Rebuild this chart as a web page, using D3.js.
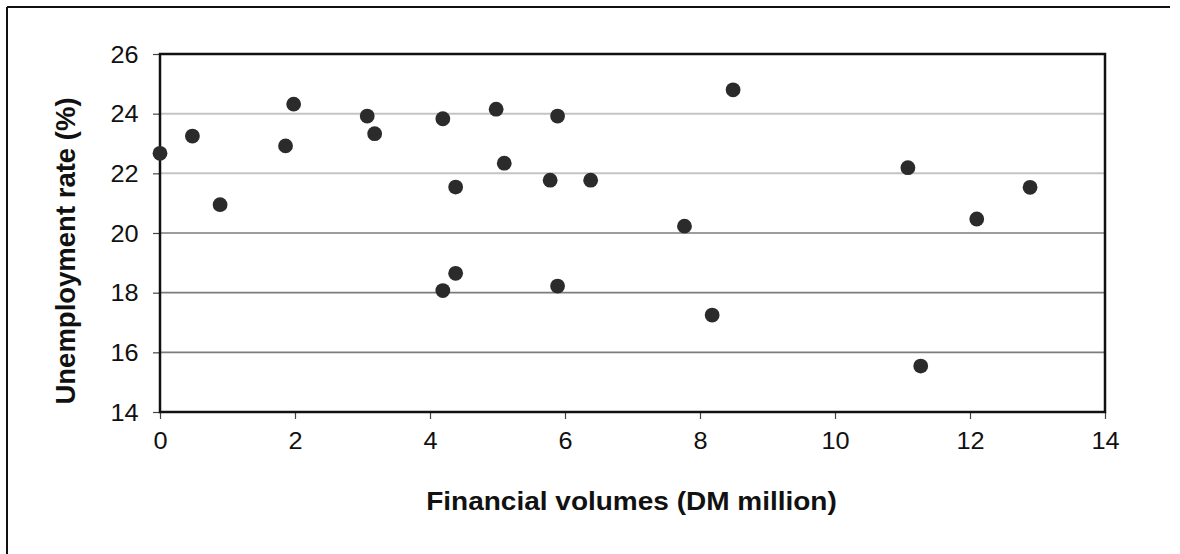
<!DOCTYPE html>
<html>
<head>
<meta charset="utf-8">
<script src="https://cdn.jsdelivr.net/npm/d3@7"></script>
<style>
  html, body { margin: 0; padding: 0; background: #ffffff; }
  svg { display: block; }
  text { font-family: "Liberation Sans", Arial, sans-serif; fill: #111; }
</style>
</head>
<body>
<svg id="chart" width="1180" height="554"></svg>
<script>
// Financial volumes (DM million) per observation
const financialVolumes = [0.00, 0.48, 0.89, 1.86, 1.98, 3.07, 3.18, 4.19, 4.38, 4.38, 4.19, 4.98,
                          5.10, 5.89, 8.49, 5.78, 6.38, 11.08, 7.77, 5.89, 8.18, 12.89, 12.10, 11.27];
// Unemployment rate (%) per observation
const unemploymentRates = [22.67, 23.25, 20.95, 22.92, 24.32, 23.92, 23.33, 23.83, 21.54, 18.65, 18.07, 24.15,
                           22.34, 23.92, 24.80, 21.77, 21.77, 22.19, 20.23, 18.22, 17.25, 21.53, 20.47, 15.54];
const xTicks = [0, 2, 4, 6, 8, 10, 12, 14];
const yTicks = [14, 16, 18, 20, 22, 24, 26];
const lightGridValues = [24, 22];
const darkGridValues = [20, 18, 16];

const points = financialVolumes.map((v, i) => ({ x: v, y: unemploymentRates[i] }));

const svg = d3.select("#chart");
const W = 1180, H = 554;
const plot = { left: 160, top: 54, right: 1105, bottom: 412 };
const stretch = 1.1; // glyphs are drawn slightly wide

const x = d3.scaleLinear().domain([0, 14]).range([plot.left, plot.right]);
const y = d3.scaleLinear().domain([14, 26]).range([plot.bottom, plot.top]);

// Outer frame (left and top edges)
svg.append("line").attr("x1", 7).attr("y1", 7).attr("x2", 7).attr("y2", H)
  .attr("stroke", "#111").attr("stroke-width", 2);
svg.append("line").attr("x1", 7).attr("y1", 7).attr("x2", 1170).attr("y2", 7)
  .attr("stroke", "#111").attr("stroke-width", 2);

// Horizontal gridlines
svg.append("g").selectAll("line").data(lightGridValues).join("line")
  .attr("x1", plot.left).attr("x2", plot.right)
  .attr("y1", d => y(d)).attr("y2", d => y(d))
  .attr("stroke", "#c4c4c4").attr("stroke-width", 2);
svg.append("g").selectAll("line").data(darkGridValues).join("line")
  .attr("x1", plot.left).attr("x2", plot.right)
  .attr("y1", d => y(d)).attr("y2", d => y(d))
  .attr("stroke", "#7c7c7c").attr("stroke-width", 1.6);

// Axes
const xAxis = svg.append("g")
  .attr("transform", `translate(0,${plot.bottom})`)
  .call(d3.axisBottom(x).tickValues(xTicks).tickFormat(d3.format("d")).tickSizeInner(7).tickSizeOuter(0).tickPadding(14));
const yAxis = svg.append("g")
  .attr("transform", `translate(${plot.left},0)`)
  .call(d3.axisLeft(y).tickValues(yTicks).tickFormat(d3.format("d")).tickSizeInner(7).tickSizeOuter(0).tickPadding(14));

[xAxis, yAxis].forEach(g => {
  g.select(".domain").remove();
  g.selectAll(".tick line").attr("stroke", "#444").attr("stroke-width", 1.2);
  g.selectAll(".tick text")
    .attr("font-family", "'Liberation Sans', Arial, sans-serif")
    .attr("font-size", 23).attr("fill", "#111")
    .attr("transform", `scale(${stretch},1)`);
});
yAxis.selectAll(".tick text").attr("dy", "0.36em").attr("x", -21.5 / stretch);

// Plot frame
svg.append("rect")
  .attr("x", plot.left).attr("y", plot.top)
  .attr("width", plot.right - plot.left).attr("height", plot.bottom - plot.top)
  .attr("fill", "none").attr("stroke", "#111").attr("stroke-width", 2.5);

// Data points
svg.append("g").selectAll("circle").data(points).join("circle")
  .attr("cx", d => x(d.x)).attr("cy", d => y(d.y))
  .attr("r", 7.4).attr("fill", "#2b2b2b");

// Axis titles
svg.append("text")
  .attr("transform", `translate(${(plot.left + plot.right) / 2 - 1},510) scale(1.12,1)`)
  .attr("text-anchor", "middle")
  .attr("font-size", 25).attr("font-weight", "bold")
  .text("Financial volumes (DM million)");

svg.append("text")
  .attr("transform", "translate(75,251) rotate(-90)")
  .attr("text-anchor", "middle")
  .attr("font-size", 27.5).attr("font-weight", "bold")
  .text("Unemployment rate (%)");
</script>
</body>
</html>
